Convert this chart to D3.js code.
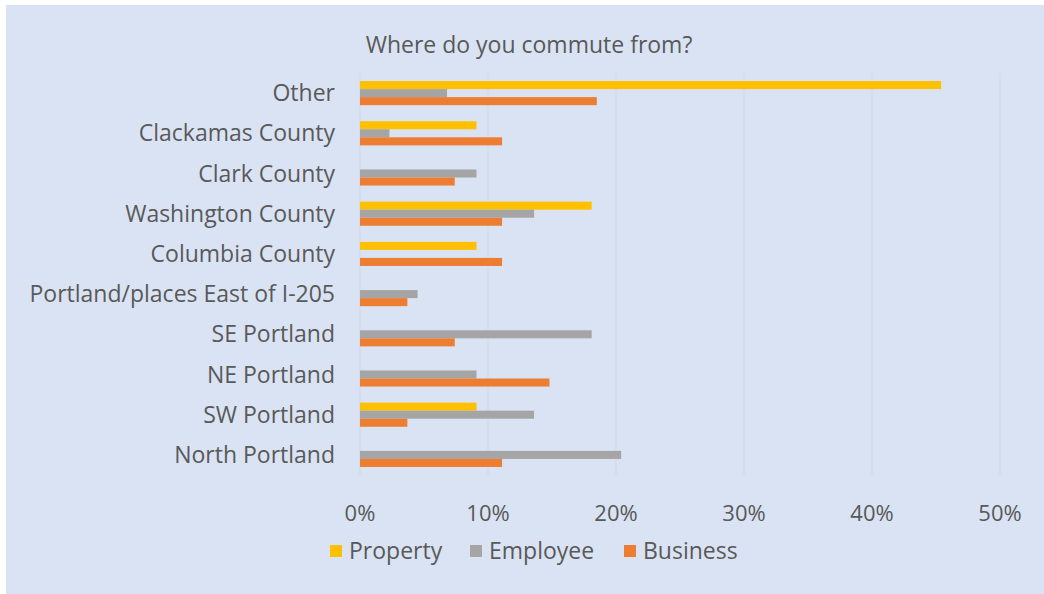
<!DOCTYPE html>
<html>
<head>
<meta charset="utf-8">
<script src="https://cdn.jsdelivr.net/npm/d3@7"></script>
<style>
  body { margin: 0; background: #ffffff; }
  text { font-family: "Open Sans", Lato, sans-serif; fill: #595959; }
</style>
</head>
<body>
<svg id="chart" width="1044" height="594"></svg>
<script>
// categories from top to bottom, as in the picture
var Categories = ["Other", "Clackamas County", "Clark County", "Washington County", "Columbia County",
	"Portland/places East of I-205", "SE Portland", "NE Portland", "SW Portland", "North Portland"];
var SeriesNames = ["Property", "Employee", "Business"];
var SeriesColors = ["#ffc000", "#a5a5a5", "#ed7d31"];

var PropertyValues = [0.454, 0.091, 0, 0.181, 0.091, 0, 0, 0, 0.091, 0];
var EmployeeValues = [0.068, 0.023, 0.091, 0.136, 0, 0.045, 0.181, 0.091, 0.136, 0.204];
var BusinessValues = [0.185, 0.111, 0.074, 0.111, 0.111, 0.037, 0.074, 0.148, 0.037, 0.111];
var TickValues = [0, 0.1, 0.2, 0.3, 0.4, 0.5];

var AllSeries = [PropertyValues, EmployeeValues, BusinessValues];

var svg = d3.select("#chart");

// chart area background
svg.append("rect").attr("x", 6).attr("y", 5).attr("width", 1038).attr("height", 589).attr("fill", "#dae3f3");

svg.append("text").attr("x", 529).attr("y", 53).attr("text-anchor", "middle")
	.style("font-size", "23px").text("Where do you commute from?");

var x = d3.scaleLinear().domain([0, 0.5]).range([360, 1000]);
var y = d3.scaleBand().domain(Categories).range([73, 475]).padding(0);
var ySub = d3.scaleBand().domain(SeriesNames).range([y.bandwidth() * 0.2, y.bandwidth() * 0.8]).padding(0);

// gridlines
svg.append("g").selectAll("line").data(TickValues).enter().append("line")
	.attr("x1", function(d) {return x(d);}).attr("x2", function(d) {return x(d);})
	.attr("y1", 73).attr("y2", 475)
	.attr("stroke", "#d5d9e0").attr("stroke-width", 1);

// bars
var groups = svg.append("g").selectAll("g").data(Categories).enter().append("g")
	.attr("transform", function(d) {return "translate(0," + y(d) + ")";});

groups.selectAll("rect")
	.data(function(d, i) {return SeriesNames.map(function(s, j) {return {series: s, value: AllSeries[j][i], color: SeriesColors[j]};});})
	.enter().append("rect")
	.filter(function(d) {return d.value > 0;})
	.attr("x", x(0))
	.attr("y", function(d) {return ySub(d.series);})
	.attr("width", function(d) {return x(d.value) - x(0);})
	.attr("height", ySub.bandwidth())
	.attr("fill", function(d) {return d.color;});

// category labels
svg.append("g").selectAll("text").data(Categories).enter().append("text")
	.attr("x", 335)
	.attr("y", function(d) {return y(d) + y.bandwidth() / 2;})
	.attr("dy", "0.35em")
	.attr("text-anchor", "end")
	.style("font-size", "23px")
	.text(function(d) {return d;});

// x axis tick labels
var fmt = d3.format(".0%");
svg.append("g").selectAll("text").data(TickValues).enter().append("text")
	.attr("x", function(d) {return x(d);})
	.attr("y", 521)
	.attr("text-anchor", "middle")
	.style("font-size", "22px")
	.text(function(d) {return fmt(d);});

// legend
var legendX = [330, 470, 624];
var legend = svg.append("g").selectAll("g").data(SeriesNames).enter().append("g")
	.attr("transform", function(d, i) {return "translate(" + legendX[i] + ",545)";});
legend.append("rect").attr("width", 12).attr("height", 12)
	.attr("fill", function(d, i) {return SeriesColors[i];});
legend.append("text").attr("x", 19).attr("y", 6).attr("dy", "0.35em")
	.style("font-size", "23px").text(function(d) {return d;});
</script>
</body>
</html>
